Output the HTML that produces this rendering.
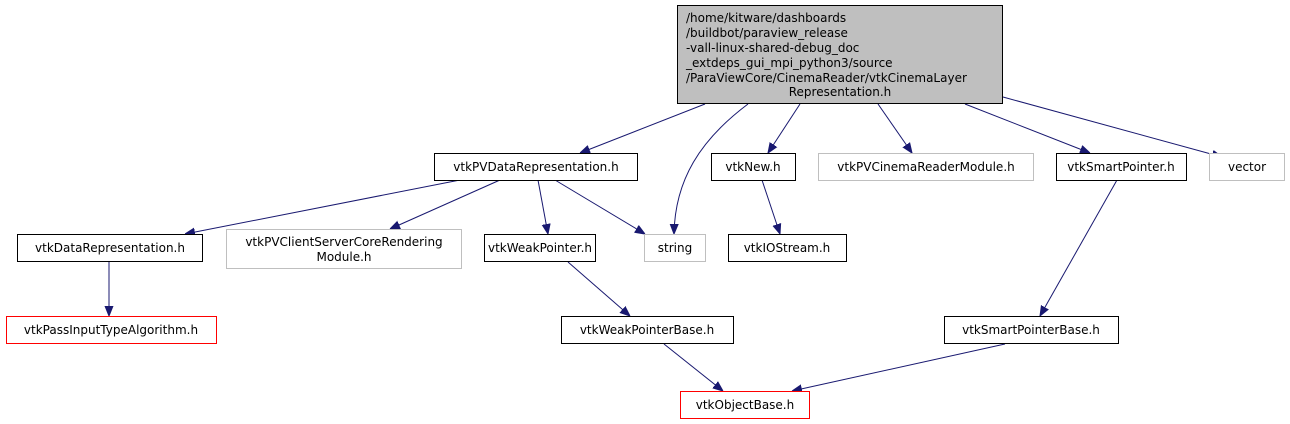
<!DOCTYPE html>
<html><head><meta charset="utf-8"><style>
html,body{margin:0;padding:0;background:#fff;}
svg{display:block;}
text{font-family:"DejaVu Sans","Liberation Sans",sans-serif;font-size:12px;fill:#000;}
</style></head><body>
<svg width="1290" height="424" viewBox="0 0 1290 424" xmlns="http://www.w3.org/2000/svg">
<defs>
<marker id="a" viewBox="0 0 10 10" refX="10" refY="5" markerWidth="10" markerHeight="10" markerUnits="userSpaceOnUse" orient="auto">
<path d="M0,1 L10,5 L0,9 z" fill="#191970" stroke="#191970"/>
</marker>
</defs>
<g stroke="#191970" stroke-width="1" fill="none" marker-end="url(#a)">
<line x1="705" y1="104" x2="580" y2="153"/>
<path d="M748,104 C700,140 675,180 674,234"/>
<line x1="800" y1="104" x2="768" y2="153"/>
<line x1="878" y1="104" x2="912" y2="153"/>
<line x1="965" y1="104" x2="1090" y2="153"/>
<line x1="1003" y1="97" x2="1222" y2="157"/>
<line x1="460" y1="180" x2="185" y2="234"/>
<line x1="500" y1="180" x2="390" y2="229"/>
<line x1="538" y1="180" x2="548" y2="234"/>
<line x1="555" y1="180" x2="645" y2="234"/>
<line x1="762" y1="180" x2="780" y2="234"/>
<line x1="1117" y1="180" x2="1040" y2="316"/>
<line x1="109" y1="262" x2="109" y2="316"/>
<line x1="568" y1="262" x2="630" y2="316"/>
<line x1="664" y1="344" x2="723" y2="391"/>
<line x1="1005" y1="344" x2="792" y2="391"/>
</g>
<g stroke-width="1">
<rect x="677.5" y="5.5" width="325" height="98" fill="#bfbfbf" stroke="#000"/>
<rect x="434.5" y="153.5" width="203" height="27" fill="#fff" stroke="#000"/>
<rect x="711.5" y="153.5" width="84" height="27" fill="#fff" stroke="#000"/>
<rect x="818.5" y="153.5" width="215" height="27" fill="#fff" stroke="#bfbfbf"/>
<rect x="1056.5" y="153.5" width="130" height="27" fill="#fff" stroke="#000"/>
<rect x="1209.5" y="153.5" width="75" height="27" fill="#fff" stroke="#bfbfbf"/>
<rect x="17.5" y="234.5" width="185" height="27" fill="#fff" stroke="#000"/>
<rect x="226.5" y="229.5" width="235" height="39" fill="#fff" stroke="#bfbfbf"/>
<rect x="484.5" y="234.5" width="111" height="27" fill="#fff" stroke="#000"/>
<rect x="644.5" y="234.5" width="61" height="27" fill="#fff" stroke="#bfbfbf"/>
<rect x="728.5" y="234.5" width="118" height="27" fill="#fff" stroke="#000"/>
<rect x="6.5" y="316.5" width="210" height="27" fill="#fff" stroke="#ff0000"/>
<rect x="561.5" y="316.5" width="172" height="27" fill="#fff" stroke="#000"/>
<rect x="944.5" y="316.5" width="174" height="27" fill="#fff" stroke="#000"/>
<rect x="680.5" y="391.5" width="129" height="27" fill="#fff" stroke="#ff0000"/>
</g>
<text x="686" y="22">/home/kitware/dashboards</text>
<text x="686" y="37">/buildbot/paraview_release</text>
<text x="686" y="52">-vall-linux-shared-debug_doc</text>
<text x="686" y="67">_extdeps_gui_mpi_python3/source</text>
<text x="686" y="82">/ParaViewCore/CinemaReader/vtkCinemaLayer</text>
<text x="840" y="96" text-anchor="middle">Representation.h</text>
<g text-anchor="middle">
<text x="536" y="171">vtkPVDataRepresentation.h</text>
<text x="753" y="171">vtkNew.h</text>
<text x="926" y="171" fill="#000">vtkPVCinemaReaderModule.h</text>
<text x="1121" y="171">vtkSmartPointer.h</text>
<text x="1247" y="171">vector</text>
<text x="110" y="252">vtkDataRepresentation.h</text>
<text x="344" y="246">vtkPVClientServerCoreRendering</text>
<text x="344" y="261">Module.h</text>
<text x="540" y="252">vtkWeakPointer.h</text>
<text x="675" y="252">string</text>
<text x="787" y="252">vtkIOStream.h</text>
<text x="111" y="334">vtkPassInputTypeAlgorithm.h</text>
<text x="647" y="334">vtkWeakPointerBase.h</text>
<text x="1031" y="334">vtkSmartPointerBase.h</text>
<text x="745" y="409">vtkObjectBase.h</text>
</g>
</svg>
</body></html>
